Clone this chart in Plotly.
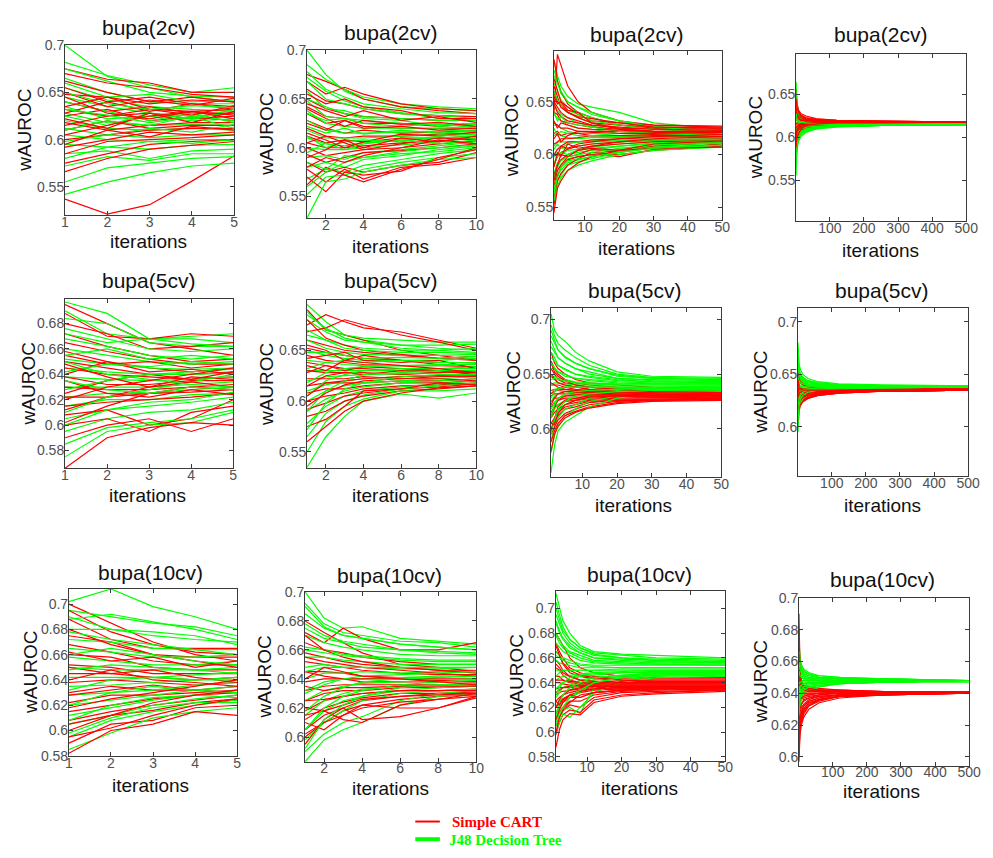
import plotly.graph_objects as go

# Iteration checkpoints at which each run's wAUROC is recorded
ITER_5 = [1, 2, 3, 4, 5]
ITER_10 = [1, 2, 3, 4, 6, 8, 10]
ITER_50 = [1, 2, 3, 5, 8, 12, 20, 30, 50]
ITER_500 = [1, 2, 4, 8, 15, 30, 60, 120, 250, 500]

# wAUROC per run, in thousandths (Simple CART = cart, J48 Decision Tree = j48)
cart_2cv_5 = [
    [537, 521, 531, 556, 583], [675, 664, 660, 650, 650], [670, 660, 655, 648, 645],
    [662, 650, 640, 645, 640], [655, 640, 645, 638, 635], [648, 645, 632, 630, 632],
    [640, 630, 635, 628, 628], [632, 625, 628, 622, 625], [625, 632, 620, 624, 620],
    [618, 610, 615, 618, 618], [610, 620, 612, 615, 615], [600, 605, 610, 612, 612],
    [592, 600, 608, 605, 608], [585, 598, 600, 602, 605], [575, 585, 595, 598, 600],
    [566, 580, 590, 594, 598],
    [650, 635, 642, 636, 644], [628, 640, 630, 638, 632], [615, 625, 632, 626, 636],
    [645, 628, 622, 630, 626], [605, 615, 625, 630, 622], [622, 612, 628, 618, 630],
    [595, 610, 603, 614, 610], [635, 645, 638, 642, 640],
]
j48_2cv_5 = [
    [700, 667, 655, 645, 640], [682, 668, 658, 650, 655], [675, 662, 650, 646, 645],
    [665, 650, 640, 638, 638], [655, 642, 635, 632, 630], [645, 635, 628, 625, 628],
    [635, 622, 625, 620, 622], [628, 618, 615, 616, 615], [620, 612, 610, 612, 610],
    [612, 605, 602, 605, 605], [605, 600, 598, 600, 600], [595, 592, 590, 594, 595],
    [585, 588, 580, 588, 590], [572, 582, 578, 585, 585], [555, 570, 575, 580, 582],
    [542, 555, 565, 572, 575],
    [660, 645, 648, 640, 642], [640, 630, 620, 628, 618], [625, 615, 628, 622, 632],
    [610, 620, 615, 625, 620], [598, 605, 612, 608, 616], [650, 638, 632, 636, 634],
    [580, 592, 598, 596, 600], [632, 626, 618, 624, 612],
]
cart_2cv_10 = [
    [675, 668, 660, 650, 642, 638, 635], [668, 655, 662, 655, 645, 640, 638],
    [660, 648, 645, 640, 635, 633, 632], [650, 640, 635, 632, 630, 628, 628],
    [642, 632, 630, 625, 625, 622, 625], [635, 625, 628, 622, 620, 620, 620],
    [628, 620, 615, 618, 615, 616, 618], [620, 612, 610, 612, 612, 614, 615],
    [612, 605, 608, 606, 610, 610, 612], [605, 600, 600, 602, 605, 607, 610],
    [600, 592, 595, 598, 600, 604, 607], [593, 585, 590, 595, 597, 600, 604],
    [585, 575, 580, 575, 582, 585, 595], [578, 565, 578, 568, 580, 583, 590],
    [570, 555, 575, 572, 576, 590, 598], [562, 580, 572, 565, 578, 588, 600],
    [655, 645, 650, 642, 638, 630, 630], [640, 630, 622, 628, 624, 626, 622],
    [625, 618, 628, 620, 622, 618, 620], [615, 608, 600, 606, 614, 612, 616],
    [605, 612, 605, 598, 604, 610, 608], [590, 598, 608, 600, 610, 606, 612],
    [645, 638, 632, 638, 628, 632, 626], [580, 590, 585, 592, 600, 608, 604],
]
j48_2cv_10 = [
    [700, 675, 658, 650, 642, 640, 638], [685, 670, 660, 652, 645, 642, 640],
    [678, 660, 652, 645, 640, 636, 635], [668, 650, 645, 640, 635, 633, 630],
    [658, 640, 638, 632, 630, 628, 628], [648, 632, 630, 628, 625, 624, 625],
    [638, 625, 622, 620, 620, 620, 622], [628, 618, 615, 615, 616, 617, 618],
    [618, 610, 610, 610, 612, 613, 615], [610, 604, 602, 605, 608, 610, 612],
    [600, 598, 598, 600, 603, 606, 610], [590, 592, 588, 595, 598, 602, 606],
    [580, 585, 580, 588, 592, 598, 602], [568, 578, 575, 582, 588, 594, 598],
    [552, 570, 572, 578, 585, 590, 594], [528, 565, 568, 575, 582, 588, 590],
    [672, 658, 648, 642, 636, 630, 628], [650, 642, 635, 630, 628, 622, 624],
    [635, 628, 630, 625, 622, 625, 620], [622, 615, 620, 614, 618, 615, 617],
    [612, 600, 606, 608, 606, 612, 614], [595, 605, 598, 604, 608, 604, 608],
    [585, 578, 592, 590, 596, 600, 603], [560, 575, 585, 590, 594, 596, 600],
]
cart_2cv_50 = [
    [640, 695, 685, 665, 650, 640, 632, 628, 626], [690, 670, 660, 648, 640, 635, 628, 626, 625],
    [672, 662, 650, 645, 638, 632, 630, 628, 627], [660, 650, 648, 640, 635, 630, 628, 625, 624],
    [650, 645, 640, 635, 632, 628, 625, 624, 623], [640, 638, 632, 630, 628, 626, 624, 622, 622],
    [630, 628, 625, 625, 622, 622, 622, 621, 620], [620, 622, 618, 620, 620, 618, 618, 619, 619],
    [610, 612, 615, 615, 616, 618, 617, 618, 618], [600, 605, 608, 612, 612, 614, 615, 616, 617],
    [590, 598, 602, 605, 608, 610, 612, 614, 615], [580, 590, 595, 600, 604, 608, 610, 612, 614],
    [570, 585, 590, 598, 600, 605, 602, 608, 612], [560, 580, 588, 595, 598, 600, 598, 605, 610],
    [552, 575, 582, 590, 596, 602, 600, 604, 608], [545, 568, 575, 585, 592, 598, 604, 606, 607],
    [665, 655, 645, 640, 636, 634, 630, 626, 625], [648, 640, 636, 632, 630, 628, 626, 624, 623],
    [632, 625, 630, 628, 625, 624, 623, 622, 622], [615, 620, 612, 618, 622, 621, 620, 620, 621],
    [600, 598, 608, 606, 610, 612, 615, 617, 619], [588, 602, 598, 610, 606, 608, 612, 615, 617],
    [575, 590, 600, 598, 604, 606, 604, 610, 613], [655, 648, 650, 642, 640, 630, 624, 622, 621],
]
j48_2cv_50 = [
    [690, 675, 665, 655, 648, 645, 640, 630, 624], [680, 668, 658, 650, 645, 640, 632, 627, 622],
    [668, 660, 652, 645, 640, 635, 628, 625, 621], [658, 650, 645, 640, 635, 630, 625, 622, 620],
    [648, 642, 638, 635, 630, 627, 622, 620, 619], [638, 635, 632, 628, 625, 624, 620, 619, 618],
    [628, 628, 625, 622, 620, 620, 618, 617, 617], [618, 620, 618, 616, 615, 616, 616, 616, 616],
    [608, 612, 612, 612, 612, 613, 614, 614, 615], [598, 605, 606, 606, 608, 610, 612, 613, 614],
    [590, 600, 600, 604, 605, 607, 610, 612, 613], [582, 592, 595, 600, 602, 604, 608, 610, 612],
    [575, 585, 590, 596, 598, 600, 605, 608, 611], [568, 580, 585, 592, 595, 598, 603, 607, 610],
    [562, 575, 580, 590, 593, 596, 602, 606, 609], [556, 570, 578, 585, 590, 594, 600, 604, 607],
    [675, 668, 660, 650, 645, 638, 632, 626, 622], [660, 652, 648, 642, 638, 632, 628, 624, 620],
    [640, 632, 636, 630, 628, 626, 622, 620, 618], [625, 618, 622, 620, 618, 618, 617, 616, 616],
    [605, 610, 606, 610, 612, 612, 613, 614, 614], [592, 598, 602, 600, 604, 606, 608, 611, 612],
    [578, 588, 594, 598, 600, 602, 606, 609, 611], [565, 578, 588, 594, 596, 598, 602, 606, 609],
]
cart_2cv_500 = [
    [655, 648, 640, 632, 628, 625, 622, 620, 619, 618], [648, 642, 636, 630, 626, 623, 621, 620, 619, 618],
    [640, 638, 632, 628, 625, 622, 621, 619, 618, 618], [635, 632, 630, 626, 623, 621, 620, 619, 618, 618],
    [630, 628, 626, 624, 622, 620, 620, 619, 618, 618], [625, 624, 622, 621, 620, 619, 619, 618, 618, 618],
    [620, 620, 620, 619, 619, 619, 618, 618, 618, 618], [615, 616, 617, 617, 617, 618, 618, 618, 618, 618],
    [610, 612, 614, 615, 616, 617, 617, 618, 618, 618], [605, 608, 611, 613, 615, 616, 617, 617, 618, 618],
    [600, 604, 608, 611, 613, 615, 616, 617, 617, 618], [595, 600, 605, 609, 612, 614, 616, 617, 617, 617],
    [590, 596, 602, 607, 611, 614, 615, 616, 617, 617], [585, 592, 600, 605, 609, 613, 615, 616, 617, 617],
    [580, 588, 596, 603, 608, 612, 614, 616, 617, 617], [575, 585, 593, 600, 606, 611, 614, 616, 617, 617],
    [645, 640, 635, 630, 626, 623, 621, 620, 619, 618], [628, 630, 627, 625, 623, 621, 620, 619, 618, 618],
    [612, 608, 612, 614, 616, 617, 618, 618, 618, 618], [598, 605, 610, 612, 614, 616, 617, 617, 618, 618],
    [638, 628, 624, 622, 621, 620, 619, 619, 618, 618], [605, 598, 596, 604, 610, 614, 616, 617, 617, 618],
    [622, 626, 624, 622, 620, 619, 619, 618, 618, 618], [588, 600, 606, 610, 613, 615, 616, 617, 617, 618],
]
j48_2cv_500 = [
    [665, 650, 640, 630, 625, 621, 619, 618, 617, 617], [655, 645, 635, 627, 622, 619, 618, 617, 617, 617],
    [645, 638, 630, 625, 620, 618, 617, 617, 616, 616], [638, 632, 626, 622, 619, 617, 617, 616, 616, 616],
    [630, 626, 622, 620, 618, 617, 616, 616, 616, 616], [624, 621, 619, 618, 617, 616, 616, 616, 616, 616],
    [618, 617, 616, 616, 615, 615, 615, 615, 616, 616], [612, 612, 612, 613, 614, 614, 615, 615, 615, 616],
    [606, 607, 608, 610, 612, 613, 614, 615, 615, 615], [600, 602, 605, 608, 610, 612, 613, 614, 615, 615],
    [594, 598, 602, 606, 609, 611, 613, 614, 615, 615], [588, 594, 600, 604, 607, 610, 612, 614, 615, 615],
    [582, 590, 597, 602, 606, 609, 612, 613, 614, 615], [575, 586, 594, 600, 605, 608, 611, 613, 614, 615],
    [566, 580, 590, 598, 603, 607, 610, 613, 614, 615], [556, 575, 586, 595, 601, 606, 610, 612, 614, 615],
    [650, 640, 632, 626, 622, 619, 618, 617, 617, 616], [635, 628, 624, 621, 619, 618, 617, 617, 616, 616],
    [620, 622, 620, 618, 617, 616, 616, 616, 616, 616], [608, 610, 611, 612, 613, 614, 615, 615, 615, 616],
    [596, 600, 604, 607, 610, 612, 613, 614, 615, 615], [585, 592, 598, 603, 607, 610, 612, 613, 614, 615],
    [570, 584, 592, 600, 605, 609, 611, 613, 614, 615], [628, 624, 621, 619, 618, 617, 616, 616, 616, 616],
]
cart_5cv_5 = [
    [695, 680, 665, 660, 655], [688, 670, 668, 672, 670], [680, 672, 660, 662, 665],
    [672, 662, 655, 650, 652], [665, 658, 652, 648, 648], [658, 650, 645, 642, 645],
    [650, 645, 640, 640, 642], [645, 640, 638, 636, 638], [638, 632, 632, 635, 635],
    [630, 628, 628, 630, 632], [622, 622, 625, 626, 628], [615, 618, 620, 622, 625],
    [608, 612, 600, 605, 620], [600, 605, 595, 610, 615], [590, 600, 605, 595, 605],
    [566, 590, 598, 602, 600],
    [655, 648, 650, 645, 648], [640, 650, 642, 644, 640], [625, 635, 640, 636, 642],
    [612, 622, 630, 638, 636], [648, 638, 630, 634, 630], [602, 615, 625, 630, 628],
    [635, 625, 622, 628, 624], [620, 630, 635, 640, 645],
]
j48_5cv_5 = [
    [697, 688, 668, 668, 665], [690, 672, 668, 670, 672], [684, 680, 665, 662, 662],
    [676, 668, 660, 658, 660], [668, 662, 655, 652, 655], [660, 655, 650, 648, 650],
    [652, 648, 645, 644, 645], [645, 642, 640, 640, 641], [638, 636, 635, 636, 638],
    [630, 630, 630, 632, 634], [622, 625, 625, 628, 630], [615, 620, 620, 624, 625],
    [605, 612, 615, 618, 622], [595, 605, 610, 612, 618], [585, 598, 602, 605, 612],
    [575, 595, 600, 602, 610],
    [672, 665, 668, 664, 662], [655, 660, 652, 655, 652], [642, 648, 646, 650, 648],
    [628, 635, 640, 642, 644], [610, 622, 628, 634, 640], [650, 640, 636, 632, 630],
    [600, 612, 618, 620, 626], [635, 628, 625, 630, 628],
]
cart_5cv_10 = [
    [690, 670, 665, 660, 650, 645, 640], [675, 685, 678, 672, 668, 660, 652],
    [668, 672, 680, 675, 665, 658, 650], [660, 655, 650, 648, 645, 642, 640],
    [652, 648, 645, 642, 640, 638, 638], [645, 640, 638, 636, 635, 635, 634],
    [638, 635, 632, 632, 630, 630, 630], [630, 628, 628, 628, 626, 628, 628],
    [622, 622, 622, 624, 622, 624, 625], [615, 618, 618, 618, 620, 620, 622],
    [608, 612, 612, 615, 618, 618, 620], [600, 605, 608, 612, 615, 616, 618],
    [592, 598, 605, 608, 612, 614, 617], [585, 590, 600, 605, 610, 612, 615],
    [575, 582, 595, 610, 612, 618, 616], [560, 575, 590, 600, 608, 613, 615],
    [680, 662, 655, 650, 646, 642, 644], [655, 650, 640, 645, 640, 636, 636],
    [642, 645, 648, 640, 638, 640, 632], [628, 635, 630, 634, 632, 630, 626],
    [615, 625, 628, 626, 630, 628, 630], [605, 618, 620, 622, 624, 625, 624],
    [595, 608, 616, 620, 622, 622, 620], [635, 630, 640, 638, 635, 632, 628],
]
j48_5cv_10 = [
    [695, 678, 665, 660, 655, 652, 650], [688, 670, 665, 662, 660, 658, 658],
    [680, 668, 660, 658, 655, 655, 656], [670, 660, 655, 652, 650, 650, 652],
    [660, 652, 648, 646, 645, 645, 646], [650, 645, 642, 640, 640, 640, 642],
    [640, 638, 636, 635, 635, 635, 637], [630, 630, 630, 630, 630, 632, 634],
    [620, 624, 625, 626, 627, 628, 630], [610, 616, 620, 622, 624, 625, 627],
    [600, 610, 615, 618, 620, 622, 624], [590, 602, 610, 614, 618, 620, 622],
    [578, 595, 605, 610, 614, 617, 620], [565, 588, 600, 606, 612, 615, 618],
    [550, 580, 595, 602, 610, 610, 612], [535, 565, 585, 600, 607, 603, 608],
    [685, 672, 662, 658, 652, 650, 648], [665, 660, 652, 650, 648, 648, 647],
    [648, 648, 645, 642, 643, 642, 644], [632, 638, 640, 638, 640, 638, 638],
    [618, 628, 632, 634, 635, 636, 636], [605, 620, 626, 630, 632, 632, 632],
    [590, 610, 620, 626, 628, 630, 630], [572, 598, 612, 618, 624, 626, 626],
]
cart_5cv_50 = [
    [670, 660, 655, 650, 645, 642, 640, 638, 637], [662, 655, 650, 645, 642, 640, 638, 637, 636],
    [655, 650, 645, 642, 640, 638, 636, 635, 635], [648, 645, 642, 640, 638, 636, 635, 634, 634],
    [640, 640, 638, 636, 635, 634, 634, 633, 633], [635, 636, 635, 634, 633, 633, 632, 632, 632],
    [630, 632, 632, 632, 632, 632, 631, 631, 631], [625, 628, 628, 630, 630, 630, 630, 630, 630],
    [620, 624, 626, 628, 628, 628, 629, 629, 629], [615, 620, 622, 625, 626, 627, 628, 628, 628],
    [610, 615, 618, 622, 624, 626, 627, 627, 628], [605, 610, 615, 620, 622, 625, 626, 627, 627],
    [600, 606, 612, 618, 620, 624, 626, 626, 627], [595, 602, 608, 614, 618, 622, 625, 626, 627],
    [588, 598, 605, 612, 616, 620, 624, 626, 627], [580, 595, 602, 610, 615, 619, 623, 625, 626],
    [660, 652, 648, 644, 640, 638, 636, 634, 633], [650, 646, 642, 640, 638, 636, 634, 633, 632],
    [642, 640, 640, 638, 636, 635, 634, 632, 631], [632, 634, 636, 636, 635, 634, 633, 632, 631],
    [622, 628, 632, 634, 634, 633, 632, 631, 630], [612, 620, 626, 630, 631, 632, 631, 630, 630],
    [598, 610, 620, 626, 628, 630, 630, 630, 629], [605, 604, 614, 622, 626, 629, 630, 629, 628],
]
j48_5cv_50 = [
    [705, 690, 685, 680, 670, 662, 652, 648, 647], [695, 685, 678, 672, 665, 658, 650, 647, 646],
    [685, 678, 672, 665, 660, 655, 648, 646, 645], [675, 670, 665, 660, 655, 652, 646, 645, 644],
    [665, 662, 658, 655, 650, 648, 645, 643, 643], [655, 655, 652, 650, 646, 645, 643, 642, 642],
    [648, 648, 646, 645, 643, 642, 641, 641, 641], [640, 642, 642, 641, 640, 640, 640, 640, 640],
    [632, 636, 637, 638, 638, 638, 638, 638, 639], [625, 630, 632, 634, 635, 636, 637, 637, 638],
    [618, 624, 628, 630, 632, 634, 635, 636, 637], [610, 618, 622, 626, 630, 632, 634, 635, 636],
    [600, 610, 616, 622, 626, 630, 633, 634, 635], [590, 602, 610, 618, 622, 628, 632, 633, 634],
    [578, 594, 604, 612, 618, 625, 630, 632, 633], [560, 585, 598, 606, 612, 620, 628, 631, 632],
    [690, 680, 672, 666, 660, 655, 649, 646, 645], [680, 672, 665, 660, 655, 650, 646, 644, 643],
    [670, 665, 658, 654, 650, 647, 644, 643, 642], [660, 656, 652, 648, 646, 644, 642, 641, 641],
    [645, 646, 645, 644, 642, 641, 640, 640, 640], [628, 634, 636, 638, 638, 638, 638, 638, 638],
    [612, 622, 628, 632, 634, 635, 636, 637, 637], [595, 608, 618, 625, 630, 632, 634, 635, 636],
]
cart_5cv_500 = [
    [660, 655, 650, 645, 642, 640, 638, 637, 636, 636], [652, 648, 645, 642, 640, 638, 637, 636, 636, 636],
    [645, 642, 640, 638, 637, 636, 636, 636, 636, 636], [640, 638, 637, 636, 635, 635, 635, 635, 635, 636],
    [635, 635, 634, 634, 634, 634, 634, 635, 635, 636], [630, 631, 632, 632, 633, 633, 634, 634, 635, 635],
    [625, 627, 629, 630, 631, 632, 633, 634, 635, 635], [620, 623, 626, 628, 630, 631, 632, 634, 634, 635],
    [615, 620, 623, 626, 628, 630, 632, 633, 634, 635], [610, 616, 620, 624, 627, 629, 631, 633, 634, 635],
    [605, 612, 618, 622, 625, 628, 631, 633, 634, 635], [600, 608, 615, 620, 624, 627, 630, 632, 634, 635],
    [622, 620, 622, 624, 626, 628, 630, 632, 634, 635], [638, 634, 632, 630, 630, 630, 631, 633, 634, 635],
    [648, 642, 638, 635, 633, 632, 632, 633, 634, 635], [618, 615, 618, 621, 624, 627, 630, 632, 634, 635],
    [655, 650, 646, 642, 640, 638, 637, 636, 636, 636], [642, 640, 638, 637, 636, 636, 635, 635, 636, 636],
    [632, 633, 634, 634, 634, 634, 634, 635, 635, 635], [622, 625, 628, 630, 631, 632, 633, 634, 635, 635],
    [612, 618, 623, 627, 629, 631, 632, 633, 634, 635], [628, 630, 632, 633, 633, 633, 634, 634, 635, 635],
    [605, 614, 620, 625, 628, 630, 632, 633, 634, 635], [645, 638, 636, 636, 635, 635, 635, 635, 635, 635],
]
j48_5cv_500 = [
    [680, 668, 660, 655, 650, 646, 643, 641, 640, 639], [672, 662, 655, 650, 647, 644, 642, 640, 639, 639],
    [665, 658, 652, 648, 645, 643, 641, 640, 639, 639], [660, 655, 650, 646, 644, 642, 641, 640, 639, 639],
    [655, 652, 648, 645, 643, 641, 640, 640, 639, 638], [650, 648, 645, 643, 641, 640, 640, 639, 639, 638],
    [645, 644, 642, 641, 640, 639, 639, 639, 638, 638], [640, 640, 640, 639, 639, 638, 638, 638, 638, 638],
    [635, 636, 637, 637, 637, 637, 637, 638, 638, 638], [630, 632, 634, 635, 636, 636, 637, 637, 638, 638],
    [625, 628, 631, 633, 634, 635, 636, 637, 637, 638], [620, 624, 628, 631, 633, 634, 636, 637, 637, 638],
    [615, 620, 625, 629, 631, 633, 635, 636, 637, 638], [608, 615, 622, 627, 630, 632, 635, 636, 637, 638],
    [600, 610, 618, 624, 628, 631, 634, 636, 637, 638], [595, 606, 615, 622, 627, 630, 634, 636, 637, 638],
    [675, 664, 656, 650, 647, 644, 642, 640, 639, 639], [668, 660, 654, 650, 646, 643, 641, 640, 639, 639],
    [658, 654, 650, 647, 644, 642, 640, 640, 639, 639], [648, 646, 644, 642, 641, 640, 639, 639, 638, 638],
    [638, 638, 638, 638, 638, 638, 638, 638, 638, 638], [628, 630, 632, 634, 635, 636, 637, 637, 638, 638],
    [618, 622, 627, 630, 633, 635, 636, 637, 637, 638], [605, 612, 620, 626, 630, 633, 635, 636, 637, 638],
]
cart_10cv_5 = [
    [700, 685, 670, 660, 655], [695, 678, 668, 662, 660], [688, 672, 665, 665, 665],
    [675, 670, 660, 658, 658], [668, 662, 655, 652, 652], [660, 658, 650, 648, 648],
    [652, 650, 645, 645, 645], [645, 645, 642, 640, 642], [638, 640, 638, 636, 638],
    [630, 635, 632, 632, 635], [622, 628, 628, 630, 632], [615, 620, 625, 628, 630],
    [608, 615, 620, 624, 628], [600, 612, 616, 622, 625], [590, 605, 608, 618, 620],
    [582, 600, 605, 615, 612],
    [680, 668, 660, 655, 650], [662, 655, 658, 650, 655], [650, 645, 648, 642, 638],
    [640, 648, 640, 638, 635], [628, 632, 636, 632, 630], [618, 625, 630, 635, 640],
    [605, 612, 622, 628, 632], [595, 602, 612, 620, 625],
]
j48_10cv_5 = [
    [702, 712, 698, 690, 680], [695, 690, 685, 682, 675], [688, 692, 686, 680, 672],
    [680, 680, 675, 672, 670], [672, 670, 665, 664, 664], [665, 662, 658, 658, 660],
    [658, 655, 652, 652, 655], [650, 648, 648, 648, 650], [642, 642, 642, 644, 646],
    [635, 636, 638, 640, 642], [628, 630, 632, 636, 638], [620, 624, 628, 632, 635],
    [612, 618, 624, 628, 632], [605, 612, 620, 625, 628], [595, 608, 615, 620, 624],
    [585, 598, 610, 615, 618],
    [690, 680, 678, 675, 668], [678, 672, 668, 664, 660], [660, 665, 660, 655, 652],
    [648, 652, 650, 648, 645], [632, 640, 642, 640, 640], [620, 630, 635, 632, 630],
    [608, 620, 626, 628, 626], [598, 610, 618, 622, 622],
]
cart_10cv_10 = [
    [680, 672, 665, 658, 650, 648, 645], [672, 665, 675, 668, 660, 660, 665],
    [665, 660, 658, 655, 652, 650, 650], [658, 655, 652, 650, 648, 646, 646],
    [652, 650, 648, 646, 644, 643, 643], [645, 645, 644, 642, 641, 640, 640],
    [638, 640, 640, 638, 638, 638, 638], [632, 635, 636, 636, 636, 636, 636],
    [625, 630, 632, 632, 634, 634, 635], [618, 625, 628, 630, 632, 632, 633],
    [612, 620, 624, 627, 630, 630, 631], [605, 615, 620, 625, 628, 630, 630],
    [600, 610, 618, 622, 626, 628, 629], [595, 612, 620, 612, 614, 620, 628],
    [610, 605, 615, 622, 620, 620, 627], [620, 618, 612, 610, 622, 626, 630],
    [670, 660, 655, 652, 648, 646, 644], [655, 652, 650, 648, 646, 644, 642],
    [645, 642, 640, 640, 640, 639, 638], [635, 632, 634, 634, 635, 635, 635],
    [625, 626, 628, 630, 632, 632, 632], [615, 618, 622, 626, 628, 629, 630],
    [602, 610, 615, 620, 624, 626, 628], [640, 648, 645, 642, 640, 638, 636],
]
j48_10cv_10 = [
    [700, 682, 675, 676, 668, 666, 664], [692, 678, 672, 670, 666, 665, 662],
    [685, 675, 670, 668, 664, 662, 660], [678, 670, 666, 664, 660, 659, 658],
    [670, 665, 662, 660, 657, 656, 656], [662, 660, 657, 656, 654, 653, 653],
    [655, 655, 653, 652, 650, 650, 650], [648, 650, 648, 648, 647, 647, 648],
    [640, 644, 644, 645, 644, 645, 645], [632, 638, 640, 640, 641, 642, 642],
    [625, 632, 635, 637, 638, 639, 640], [615, 625, 630, 633, 635, 636, 637],
    [605, 618, 625, 628, 632, 634, 635], [598, 610, 618, 625, 630, 632, 633],
    [590, 602, 610, 614, 625, 630, 632], [583, 598, 605, 610, 622, 628, 630],
    [690, 676, 670, 668, 664, 662, 660], [675, 668, 665, 662, 660, 658, 657],
    [660, 658, 656, 655, 653, 652, 652], [645, 648, 648, 648, 648, 648, 648],
    [630, 636, 640, 642, 643, 644, 645], [618, 628, 634, 638, 640, 641, 642],
    [605, 620, 628, 632, 636, 638, 639], [592, 612, 622, 628, 634, 636, 637],
]
cart_10cv_50 = [
    [680, 675, 670, 660, 652, 648, 645, 644, 644], [672, 665, 660, 652, 648, 645, 643, 643, 643],
    [665, 662, 655, 648, 645, 643, 642, 642, 642], [658, 655, 650, 645, 642, 641, 641, 641, 641],
    [652, 650, 646, 642, 640, 640, 640, 640, 640], [645, 645, 642, 640, 639, 639, 639, 639, 639],
    [640, 640, 639, 638, 638, 638, 638, 638, 638], [635, 636, 636, 636, 637, 637, 637, 637, 637],
    [630, 632, 633, 634, 635, 636, 636, 636, 637], [625, 628, 630, 632, 634, 635, 635, 636, 636],
    [620, 624, 627, 630, 632, 634, 635, 635, 636], [615, 620, 624, 628, 628, 632, 634, 635, 635],
    [610, 616, 620, 625, 625, 630, 633, 634, 635], [605, 612, 617, 622, 620, 628, 632, 633, 634],
    [598, 608, 614, 618, 616, 626, 630, 632, 634], [588, 602, 610, 615, 614, 624, 629, 631, 633],
    [670, 662, 656, 650, 646, 644, 642, 641, 641], [655, 652, 648, 645, 642, 641, 640, 640, 640],
    [642, 642, 642, 641, 640, 639, 639, 639, 639], [632, 634, 636, 637, 638, 638, 638, 638, 638],
    [620, 626, 630, 634, 636, 637, 637, 637, 637], [610, 618, 624, 630, 633, 635, 636, 636, 636],
    [600, 612, 618, 624, 630, 632, 634, 635, 635], [625, 622, 626, 630, 628, 632, 634, 635, 636],
]
j48_10cv_50 = [
    [712, 700, 690, 680, 670, 665, 663, 662, 660], [705, 695, 685, 675, 668, 664, 662, 660, 659],
    [695, 688, 680, 672, 666, 662, 660, 659, 658], [688, 680, 675, 668, 664, 660, 659, 658, 657],
    [680, 675, 670, 665, 662, 658, 657, 656, 656], [672, 668, 665, 662, 658, 656, 655, 655, 655],
    [665, 662, 660, 658, 655, 654, 654, 654, 654], [658, 656, 655, 654, 652, 652, 652, 652, 652],
    [650, 650, 650, 650, 650, 650, 651, 651, 651], [642, 644, 645, 646, 647, 648, 649, 650, 650],
    [635, 638, 640, 642, 645, 646, 648, 649, 649], [628, 632, 636, 638, 642, 644, 646, 648, 648],
    [620, 626, 630, 634, 638, 642, 645, 647, 647], [612, 620, 625, 628, 632, 640, 644, 646, 647],
    [605, 612, 618, 620, 615, 636, 642, 645, 646], [600, 608, 615, 612, 620, 632, 640, 644, 645],
    [700, 690, 682, 675, 668, 663, 660, 658, 657], [690, 682, 676, 670, 664, 660, 658, 657, 656],
    [678, 672, 668, 664, 660, 657, 656, 655, 654], [662, 660, 658, 656, 654, 653, 652, 652, 652],
    [645, 648, 650, 650, 650, 650, 650, 650, 650], [630, 636, 640, 644, 646, 647, 648, 648, 649],
    [615, 624, 630, 636, 640, 644, 646, 647, 648], [608, 615, 620, 628, 634, 640, 644, 646, 647],
]
cart_10cv_500 = [
    [690, 670, 655, 648, 645, 644, 643, 642, 641, 641], [675, 662, 652, 646, 644, 643, 642, 642, 641, 641],
    [662, 655, 648, 645, 643, 642, 642, 641, 641, 641], [655, 650, 646, 644, 642, 642, 641, 641, 641, 641],
    [648, 645, 643, 642, 641, 641, 641, 641, 641, 641], [642, 642, 641, 641, 640, 640, 640, 641, 641, 641],
    [636, 637, 638, 638, 639, 639, 640, 640, 641, 641], [630, 632, 634, 636, 637, 638, 639, 640, 640, 641],
    [625, 628, 631, 633, 635, 637, 638, 639, 640, 641], [620, 624, 628, 631, 633, 636, 638, 639, 640, 640],
    [615, 620, 625, 629, 632, 635, 637, 639, 640, 640], [610, 616, 622, 627, 630, 634, 636, 638, 640, 640],
    [605, 612, 620, 625, 629, 633, 636, 638, 639, 640], [600, 610, 618, 622, 627, 632, 635, 638, 639, 640],
    [597, 606, 614, 620, 625, 630, 634, 637, 639, 640], [618, 622, 626, 622, 628, 632, 636, 638, 639, 640],
    [680, 665, 652, 646, 644, 643, 642, 642, 641, 641], [665, 656, 650, 646, 644, 642, 642, 641, 641, 641],
    [650, 648, 645, 643, 642, 641, 641, 641, 641, 641], [640, 640, 640, 640, 640, 640, 640, 640, 641, 641],
    [632, 634, 636, 637, 638, 639, 640, 640, 640, 641], [622, 626, 630, 633, 636, 637, 639, 640, 640, 641],
    [612, 618, 624, 628, 632, 635, 637, 639, 640, 640], [603, 612, 620, 625, 630, 634, 636, 638, 639, 640],
]
j48_10cv_500 = [
    [675, 668, 662, 658, 655, 653, 651, 650, 649, 648], [670, 665, 660, 656, 654, 652, 651, 650, 649, 648],
    [665, 662, 658, 655, 653, 652, 650, 649, 649, 648], [662, 660, 656, 654, 652, 651, 650, 649, 648, 648],
    [658, 656, 654, 652, 651, 650, 649, 649, 648, 648], [655, 654, 652, 651, 650, 649, 649, 648, 648, 648],
    [652, 651, 650, 650, 649, 649, 648, 648, 648, 648], [648, 648, 648, 648, 648, 648, 648, 648, 648, 648],
    [645, 646, 646, 647, 647, 647, 647, 648, 648, 648], [642, 643, 645, 645, 646, 646, 647, 647, 648, 648],
    [638, 640, 642, 644, 645, 646, 646, 647, 647, 648], [635, 638, 640, 642, 644, 645, 646, 647, 647, 648],
    [630, 634, 638, 641, 643, 644, 645, 646, 647, 648], [625, 630, 635, 639, 641, 643, 645, 646, 647, 648],
    [620, 627, 632, 636, 640, 642, 644, 646, 647, 647], [628, 632, 636, 638, 640, 642, 644, 646, 647, 648],
    [672, 666, 661, 657, 654, 652, 650, 649, 649, 648], [666, 662, 658, 655, 652, 651, 650, 649, 648, 648],
    [660, 658, 655, 653, 651, 650, 649, 648, 648, 648], [654, 652, 651, 650, 649, 649, 648, 648, 648, 648],
    [646, 647, 647, 647, 648, 648, 648, 648, 648, 648], [640, 642, 644, 645, 646, 647, 647, 648, 648, 648],
    [634, 637, 640, 642, 644, 645, 646, 647, 648, 648], [626, 632, 636, 640, 642, 644, 645, 646, 647, 648],
]

TITLES = ["bupa(2cv)"] * 4 + ["bupa(5cv)"] * 4 + ["bupa(10cv)"] * 4
ITERS = [ITER_5, ITER_10, ITER_50, ITER_500] * 3
CART = [cart_2cv_5, cart_2cv_10, cart_2cv_50, cart_2cv_500,
        cart_5cv_5, cart_5cv_10, cart_5cv_50, cart_5cv_500,
        cart_10cv_5, cart_10cv_10, cart_10cv_50, cart_10cv_500]
J48 = [j48_2cv_5, j48_2cv_10, j48_2cv_50, j48_2cv_500,
       j48_5cv_5, j48_5cv_10, j48_5cv_50, j48_5cv_500,
       j48_10cv_5, j48_10cv_10, j48_10cv_50, j48_10cv_500]
X_TICKS = [[1, 2, 3, 4, 5], [2, 4, 6, 8, 10], [10, 20, 30, 40, 50], [100, 200, 300, 400, 500]] * 3
Y_TICKS = [
    [0.55, 0.6, 0.65, 0.7], [0.55, 0.6, 0.65, 0.7], [0.55, 0.6, 0.65], [0.55, 0.6, 0.65],
    [0.58, 0.6, 0.62, 0.64, 0.66, 0.68], [0.55, 0.6, 0.65], [0.6, 0.65, 0.7], [0.6, 0.65, 0.7],
    [0.58, 0.6, 0.62, 0.64, 0.66, 0.68, 0.7], [0.6, 0.62, 0.64, 0.66, 0.68, 0.7],
    [0.58, 0.6, 0.62, 0.64, 0.66, 0.68, 0.7], [0.6, 0.62, 0.64, 0.66, 0.68, 0.7],
]
Y_RANGES = [
    [0.52, 0.70], [0.528, 0.70], [0.538, 0.698], [0.503, 0.697],
    [0.566, 0.699], [0.534, 0.699], [0.556, 0.71], [0.553, 0.713],
    [0.58, 0.712], [0.583, 0.70], [0.577, 0.714], [0.5945, 0.70],
]

# Page geometry (pixels): axes boxes as (left, right, top, bottom)
W, H = 993, 858
BOXES = [
    (62, 234, 38, 211), (308, 480, 43, 214), (559, 730, 44, 216), (805, 978, 47, 217),
    (62, 233, 297, 469), (308, 480, 298, 469), (556, 729, 306, 478), (807, 980, 306, 477),
    (66, 237, 592, 762), (306, 480, 595, 768), (561, 733, 594, 767), (808, 981, 601, 772),
]
TITLE_POS = [(147, 20), (393, 25), (643, 27), (891, 27),
             (147, 278), (393, 278), (641, 288), (892, 288),
             (149, 575), (392, 578), (646, 577), (893, 582)]
XLABEL_POS = [(147, 238), (393, 243), (643, 245), (891, 247),
              (146, 497), (393, 497), (640, 507), (893, 507),
              (149, 792), (393, 795), (646, 795), (892, 798)]
YLABEL_X = [21, 266, 516, 764, 25, 267, 518, 769, 27, 265, 521, 769]

RED = "#ff0000"
GREEN = "#00ff00"
FONT = "Liberation Sans, Arial, sans-serif"


def fx(px):
    return px / W


def fy(py):
    return 1 - py / H


fig = go.Figure()
annotations = []
axes_layout = {}

for i in range(12):
    n = i + 1
    xref = "x" if n == 1 else f"x{n}"
    yref = "y" if n == 1 else f"y{n}"
    xkey = "xaxis" if n == 1 else f"xaxis{n}"
    ykey = "yaxis" if n == 1 else f"yaxis{n}"
    iters = ITERS[i]

    for green_run, red_run in zip(J48[i], CART[i]):
        for run, color in ((green_run, GREEN), (red_run, RED)):
            fig.add_trace(go.Scatter(
                x=iters, y=[v / 1000 for v in run], mode="lines",
                line=dict(color=color, width=1.2), xaxis=xref, yaxis=yref,
                showlegend=False, hoverinfo="skip",
            ))

    left, right, top, bottom = BOXES[i]
    common = dict(
        showline=True, linecolor="#3a3a3a", linewidth=1, mirror="ticks",
        ticks="inside", ticklen=4, tickcolor="#3a3a3a", showgrid=False,
        zeroline=False, tickfont=dict(family=FONT, size=14, color="#505050"),
    )
    axes_layout[xkey] = dict(
        domain=[fx(left), fx(right)], range=[iters[0], iters[-1]], anchor=yref,
        tickvals=X_TICKS[i], ticktext=[str(v) for v in X_TICKS[i]],
        ticklabelstandoff=-6, **common,
    )
    axes_layout[ykey] = dict(
        domain=[fy(bottom), fy(top)], range=Y_RANGES[i], anchor=xref,
        tickvals=Y_TICKS[i], ticktext=[f"{v:g}" for v in Y_TICKS[i]],
        ticklabelstandoff=-3, **common,
    )

    tx, ty = TITLE_POS[i]
    annotations.append(dict(text=TITLES[i], x=fx(tx), y=fy(ty), xref="paper", yref="paper",
                            xanchor="center", yanchor="middle", showarrow=False,
                            font=dict(family=FONT, size=21, color="#111111")))
    lx, ly = XLABEL_POS[i]
    annotations.append(dict(text="iterations", x=fx(lx), y=fy(ly), xref="paper", yref="paper",
                            xanchor="center", yanchor="middle", showarrow=False,
                            font=dict(family=FONT, size=19, color="#111111")))
    annotations.append(dict(text="wAUROC", x=fx(YLABEL_X[i]), y=fy((top + bottom) / 2),
                            xref="paper", yref="paper", xanchor="center", yanchor="middle",
                            textangle=-90, showarrow=False,
                            font=dict(family=FONT, size=19, color="#111111")))

# Legend drawn beneath the grid
legend_font = "Liberation Serif, Times New Roman, serif"
annotations.append(dict(text="<b>Simple CART</b>", x=fx(453), y=fy(829), xref="paper", yref="paper",
                        xanchor="left", yanchor="middle", showarrow=False,
                        font=dict(family=legend_font, size=15, color=RED)))
annotations.append(dict(text="<b>J48 Decision Tree</b>", x=fx(450), y=fy(848), xref="paper", yref="paper",
                        xanchor="left", yanchor="middle", showarrow=False,
                        font=dict(family=legend_font, size=15, color=GREEN)))
shapes = [
    dict(type="line", xref="paper", yref="paper", x0=fx(418), x1=fx(443), y0=fy(829), y1=fy(829),
         line=dict(color=RED, width=2)),
    dict(type="line", xref="paper", yref="paper", x0=fx(418), x1=fx(443), y0=fy(847), y1=fy(847),
         line=dict(color=GREEN, width=4)),
]

fig.update_layout(
    width=W, height=H, margin=dict(l=0, r=0, t=0, b=0),
    paper_bgcolor="white", plot_bgcolor="white",
    annotations=annotations, shapes=shapes, showlegend=False,
    **axes_layout,
)

fig.write_html("out.html")
